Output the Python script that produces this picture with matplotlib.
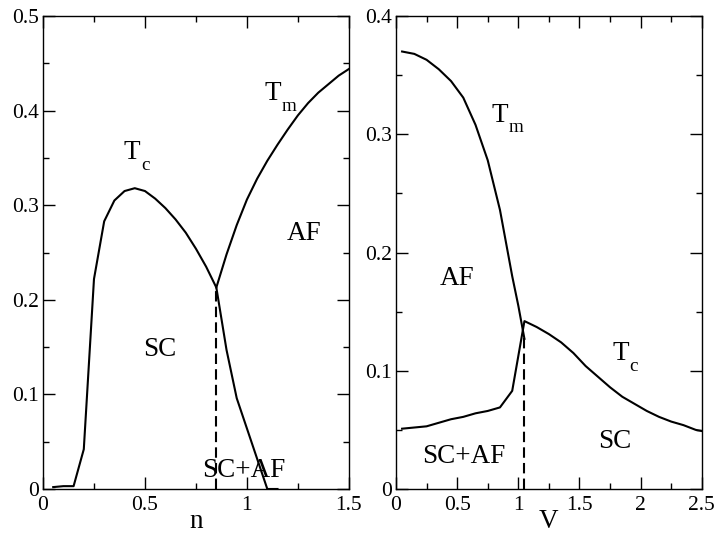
import numpy as np
import matplotlib
matplotlib.use("Agg")
import matplotlib.pyplot as plt
from matplotlib.ticker import MultipleLocator, FuncFormatter

plt.rcParams['font.family'] = ['Liberation Serif', 'DejaVu Serif']

# left panel: T vs n
n_tc = [0.05, 0.10, 0.15, 0.20, 0.25, 0.30, 0.35, 0.40, 0.45, 0.50, 0.55, 0.60,
        0.65, 0.70, 0.75, 0.80, 0.85, 0.90, 0.95, 1.00, 1.05, 1.10, 1.15]
tc_n = [0.002, 0.003, 0.003, 0.042, 0.222, 0.283, 0.305, 0.315, 0.318, 0.315, 0.307, 0.297,
        0.285, 0.271, 0.254, 0.235, 0.213, 0.147, 0.096, 0.064, 0.032, 0.0, 0.0]

n_tm = [0.85, 0.90, 0.95, 1.00, 1.05, 1.10, 1.15, 1.20, 1.25, 1.30, 1.35, 1.40, 1.45, 1.50]
tm_n = [0.213, 0.248, 0.279, 0.306, 0.328, 0.347, 0.364, 0.380, 0.395, 0.408, 0.419, 0.428, 0.437, 0.444]

n_split = 0.85
t_split_n = 0.213

# right panel: T vs V
v_tm = [0.05, 0.15, 0.25, 0.35, 0.45, 0.55, 0.65, 0.75, 0.85, 0.90, 0.95, 1.00, 1.05]
tm_v = [0.370, 0.368, 0.363, 0.355, 0.345, 0.331, 0.308, 0.278, 0.236, 0.208, 0.180, 0.155, 0.127]

v_tc = [0.05, 0.15, 0.25, 0.35, 0.45, 0.55, 0.65, 0.75, 0.85, 0.95, 1.05, 1.15, 1.25, 1.35,
        1.45, 1.55, 1.65, 1.75, 1.85, 1.95, 2.05, 2.15, 2.25, 2.35, 2.45, 2.5]
tc_v = [0.051, 0.052, 0.053, 0.056, 0.059, 0.061, 0.064, 0.066, 0.069, 0.083, 0.142, 0.137,
        0.131, 0.124, 0.115, 0.104, 0.095, 0.086, 0.078, 0.072, 0.066, 0.061, 0.057, 0.054,
        0.050, 0.049]

v_split = 1.05
t_split_v = 0.128

fig = plt.figure(figsize=(7.18, 5.35), dpi=100)
ax1 = fig.add_axes([0.0599, 0.086, 0.426, 0.884])
ax2 = fig.add_axes([0.5515, 0.086, 0.426, 0.884])

lw = 1.5
ax1.plot(n_tc, tc_n, color='black', lw=lw)
ax1.plot(n_tm, tm_n, color='black', lw=lw)
ax1.plot([n_split, n_split], [0, t_split_n], color='black', lw=lw, dashes=(5, 2.5))

ax2.plot(v_tm, tm_v, color='black', lw=lw)
ax2.plot(v_tc, tc_v, color='black', lw=lw)
ax2.plot([v_split, v_split], [0, t_split_v], color='black', lw=lw, dashes=(5, 2.5))

fs = 19.5


def temp_label(ax, x, y, sub):
    # big T with a dropped subscript, like the original
    ax.text(x, y, 'T', fontsize=fs, va='baseline')
    ax.annotate(sub, xy=(x, y), xytext=(fs * 0.62, -7.5), textcoords='offset points',
                fontsize=fs * 0.7, va='baseline')


temp_label(ax1, 0.397, 0.3485, 'c')
temp_label(ax1, 1.088, 0.411, 'm')
ax1.text(1.195, 0.263, 'AF', fontsize=fs, va='baseline')
ax1.text(0.489, 0.1406, 'SC', fontsize=fs, va='baseline')
ax1.text(0.781, 0.0124, 'SC+AF', fontsize=fs, va='baseline')

temp_label(ax2, 0.78, 0.3106, 'm')
temp_label(ax2, 1.77, 0.109, 'c')
ax2.text(0.36, 0.1725, 'AF', fontsize=fs, va='baseline')
ax2.text(1.653, 0.0344, 'SC', fontsize=fs, va='baseline')
ax2.text(0.21, 0.022, 'SC+AF', fontsize=fs, va='baseline')

fmt = FuncFormatter(lambda v, p: '%g' % round(v, 3))

ax1.set_xlim(0, 1.5)
ax1.set_ylim(0, 0.5)
ax1.xaxis.set_major_locator(MultipleLocator(0.5))
ax1.xaxis.set_minor_locator(MultipleLocator(0.25))
ax1.yaxis.set_major_locator(MultipleLocator(0.1))
ax1.yaxis.set_minor_locator(MultipleLocator(0.05))
ax1.set_xlabel('n', fontsize=fs, labelpad=-4)

ax2.set_xlim(0, 2.5)
ax2.set_ylim(0, 0.4)
ax2.xaxis.set_major_locator(MultipleLocator(0.5))
ax2.xaxis.set_minor_locator(MultipleLocator(0.25))
ax2.yaxis.set_major_locator(MultipleLocator(0.1))
ax2.yaxis.set_minor_locator(MultipleLocator(0.05))
ax2.set_xlabel('V', fontsize=fs, labelpad=-4)

for ax in (ax1, ax2):
    ax.xaxis.set_major_formatter(fmt)
    ax.yaxis.set_major_formatter(fmt)
    ax.tick_params(which='both', direction='in', top=True, right=True, width=1.0)
    ax.tick_params(which='major', length=8.5, labelsize=15.5)
    ax.tick_params(axis='x', which='major', pad=5)
    ax.tick_params(axis='y', which='major', pad=3)
    ax.tick_params(which='minor', length=4.3)
    for s in ax.spines.values():
        s.set_linewidth(1.0)

fig.savefig('out.png', dpi=100)
